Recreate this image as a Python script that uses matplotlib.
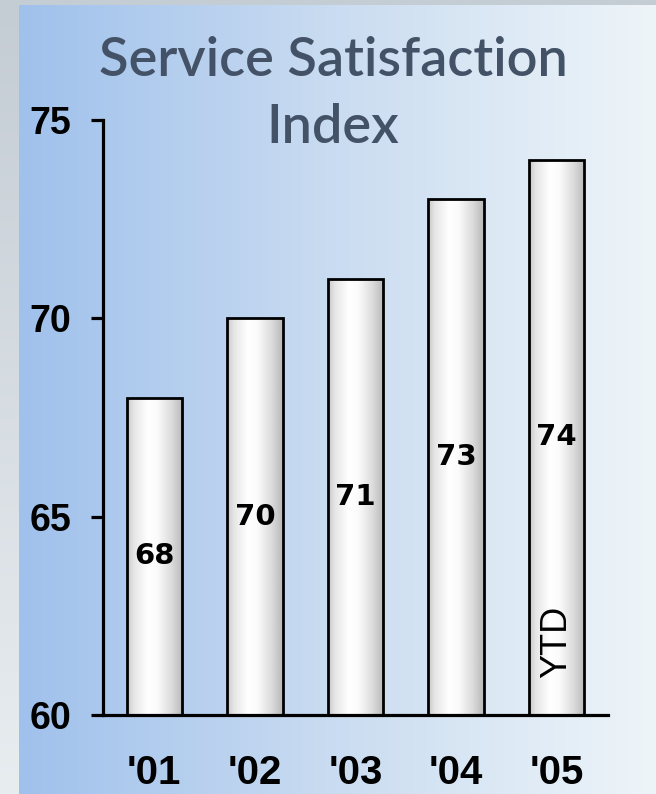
import numpy as np
import matplotlib.pyplot as plt
from matplotlib.colors import to_rgb

# survey results by year
years = ["'01", "'02", "'03", "'04", "'05"]
scores = [68, 70, 71, 73, 74]
y_ticks = [60, 65, 70, 75]
note = "YTD"

W, H = 656, 794
fig = plt.figure(figsize=(W / 100, H / 100), dpi=100)

# background: grey frame with a blue-to-white panel
bg = np.zeros((H, W, 3))
rows = np.linspace(0, 1, H)[:, None]
grey_top = np.array(to_rgb('#c4ccd4'))
grey_bot = np.array(to_rgb('#e8edf0'))
bg[:] = grey_top + (grey_bot - grey_top) * rows[..., None] * np.ones((1, W, 1))
px0, py0 = 19, 5
cols = np.linspace(0, 1, W - px0)
stops = [0.0, 0.5, 1.0]
stop_cols = np.array([to_rgb('#a0c1ec'), to_rgb('#cadcf1'), to_rgb('#eef5f9')])
panel = np.stack([np.interp(cols, stops, stop_cols[:, c]) for c in range(3)], axis=-1)
bg[py0:, px0:] = panel[None, :, :]

bg_ax = fig.add_axes([0, 0, 1, 1], zorder=0)
bg_ax.imshow(bg, aspect='auto', extent=(0, 1, 0, 1))
bg_ax.axis('off')

ax = fig.add_axes([103 / W, 1 - 715 / H, (608 - 103) / W, (715 - 120) / H], zorder=1)
ax.patch.set_alpha(0)

x = np.arange(len(years))
width = 0.55
bars = ax.bar(x, scores, width=width, facecolor='none', edgecolor='black',
              linewidth=2, zorder=3)

# shaded cylinder look for each bar
t = np.linspace(0, 1, 200)
shade = np.interp(t, [0, 0.12, 0.38, 0.55, 0.8, 1], [0.78, 0.9, 1.0, 0.98, 0.86, 0.72])
shade = np.tile(shade, (10, 1))
for xi, s, b in zip(x, scores, bars):
    im = ax.imshow(shade, cmap='gray', vmin=0, vmax=1, aspect='auto',
                   extent=(xi - width / 2, xi + width / 2, 60, s), zorder=2)
    im.set_clip_path(b)
    ax.text(xi, (60 + s) / 2, str(s), ha='center', va='center',
            fontsize=21, fontweight='bold', family='DejaVu Sans', zorder=4)

ax.text(x[-1], 61.85, note, rotation=90, ha='center', va='center',
        fontsize=26, family='Liberation Sans', zorder=4)

ax.set_xlim(-0.51, 4.51)
ax.set_ylim(60, 75)
ax.set_yticks(y_ticks)
ax.set_xticks(x)
ax.set_xticklabels(years)

for side in ['top', 'right']:
    ax.spines[side].set_visible(False)
for side in ['left', 'bottom']:
    ax.spines[side].set_linewidth(2.3)

ax.tick_params(axis='y', direction='out', length=9, width=2.3, pad=14)
ax.tick_params(axis='x', length=0, pad=28)
for lbl in ax.get_yticklabels():
    lbl.set_fontproperties({'family': 'Liberation Sans', 'weight': 'bold', 'size': 27})
for lbl in ax.get_xticklabels():
    lbl.set_fontproperties({'family': 'Liberation Sans', 'weight': 'bold', 'size': 29})

fig.text(0.508, 0.882, "Service Satisfaction\nIndex", ha='center', va='center',
         fontsize=39, family='Lato', fontweight='semibold', color='#435266',
         linespacing=1.45, zorder=5)

fig.savefig('out.png', dpi=100)
